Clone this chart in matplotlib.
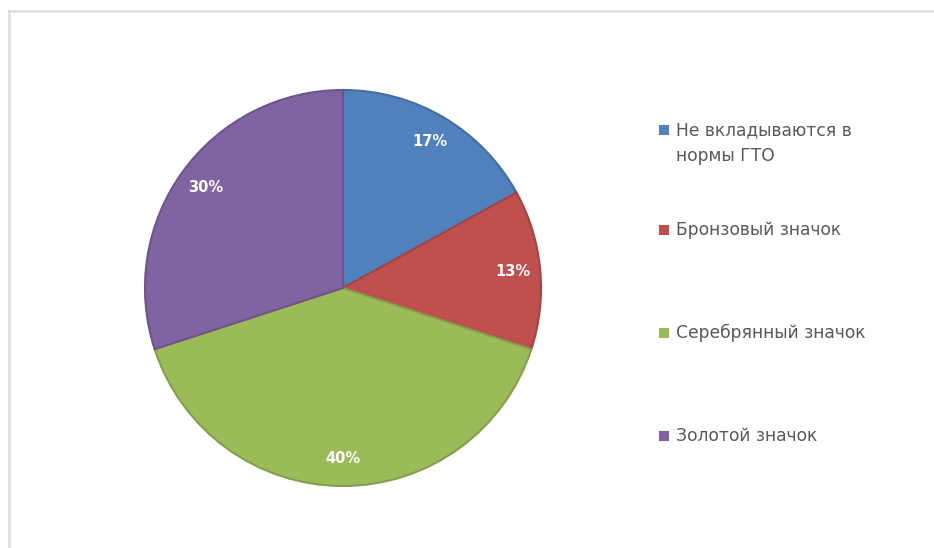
import matplotlib
matplotlib.use("Agg")
import matplotlib.pyplot as plt
from matplotlib.lines import Line2D
from matplotlib.patches import Rectangle
import matplotlib.colors as mcolors

categories = ["Не вкладываются в\nнормы ГТО", "Бронзовый значок",
              "Серебрянный значок", "Золотой значок"]
shares = [17, 13, 40, 30]
colors = ["#4F81BD", "#C0504D", "#9BBB59", "#8064A2"]

W, H = 934, 548
fig = plt.figure(figsize=(W / 100, H / 100), dpi=100)
fig.patch.set_facecolor("white")

# chart-area frame (top and left edges)
frame_kw = dict(color="#dcdcdc", lw=1.8, transform=fig.transFigure)
fig.add_artist(Line2D([9 / W, 1.0], [1 - 11 / H, 1 - 11 / H], **frame_kw))
fig.add_artist(Line2D([9 / W, 9 / W], [0.0, 1 - 11 / H], **frame_kw))

cx, cy, r = 343, 288, 200
ax = fig.add_axes([(cx - r) / W, (H - cy - r) / H, 2 * r / W, 2 * r / H])
wedges, _, autotexts = ax.pie(
    shares, colors=colors, startangle=90, counterclock=False,
    autopct=lambda p: f"{p:.0f}%", pctdistance=0.86, radius=1.0,
    textprops=dict(color="white", fontweight="bold", fontsize=10.5,
                   family="DejaVu Sans"))
for w, c in zip(wedges, colors):
    rgb = mcolors.to_rgb(c)
    w.set_edgecolor(tuple(v * 0.85 for v in rgb))
    w.set_linewidth(1.5)
ax.set_xlim(-1.01, 1.01)
ax.set_ylim(-1.01, 1.01)
ax.set_aspect("equal")
ax.axis("off")

# legend drawn as squares + labels down the right side
legend_y = [130, 230, 333, 436]
line_step = 26
for lab, c, y in zip(categories, colors, legend_y):
    fig.add_artist(Rectangle((659 / W, 1 - (y + 5) / H),
                             10 / W, 10 / H, transform=fig.transFigure,
                             facecolor=c, edgecolor="none"))
    for i, line in enumerate(lab.split("\n")):
        fig.text(676 / W, 1 - (y + i * line_step) / H, line,
                 ha="left", va="center", fontsize=12.3,
                 color="#595959", family="DejaVu Sans")

fig.savefig("out.png", dpi=100)
